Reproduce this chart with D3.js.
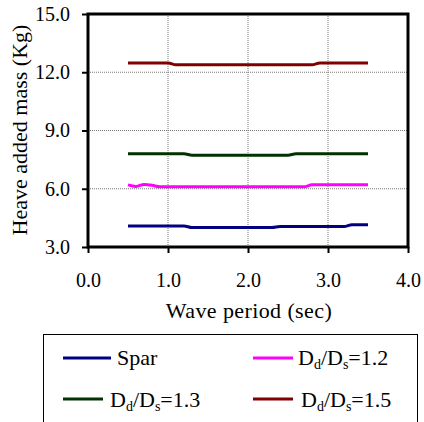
<!DOCTYPE html>
<html><head><meta charset="utf-8">
<script src="https://cdn.jsdelivr.net/npm/d3@7"></script>
<style>body{margin:0;background:#fff}svg{display:block}</style>
</head><body>
<script>
const periods = [0.5,0.6,0.7,0.8,0.9,1.0,1.1,1.2,1.3,1.4,1.5,1.6,1.7,1.8,1.9,2.0,2.1,2.2,2.3,2.4,2.5,2.6,2.7,2.8,2.9,3.0,3.1,3.2,3.3,3.4,3.5];
const spar  = [4.08,4.08,4.08,4.08,4.08,4.08,4.08,4.08,4.0,4.0,4.0,4.0,4.0,4.0,4.0,4.0,4.0,4.0,4.0,4.05,4.05,4.05,4.05,4.05,4.05,4.05,4.05,4.05,4.15,4.15,4.15];
const dd12  = [6.2,6.12,6.22,6.18,6.1,6.1,6.1,6.1,6.1,6.1,6.1,6.1,6.1,6.1,6.1,6.1,6.1,6.1,6.1,6.1,6.1,6.1,6.1,6.2,6.2,6.2,6.2,6.2,6.2,6.2,6.2];
const dd13  = [7.8,7.8,7.8,7.8,7.8,7.8,7.8,7.8,7.73,7.73,7.73,7.73,7.73,7.73,7.73,7.73,7.73,7.73,7.73,7.73,7.73,7.8,7.8,7.8,7.8,7.8,7.8,7.8,7.8,7.8,7.8];
const dd15  = [12.48,12.48,12.48,12.48,12.48,12.48,12.38,12.38,12.38,12.38,12.38,12.38,12.38,12.38,12.38,12.38,12.38,12.38,12.38,12.38,12.38,12.38,12.38,12.38,12.48,12.48,12.48,12.48,12.48,12.48,12.48];
const seriesNames = ["Spar","1.2","1.3","1.5"];
const xTicks = [0,1,2,3,4];
const yTicks = [3,6,9,12,15];

const FONT="'Liberation Serif','Times New Roman',serif";
const W=424,H=422;
const svg=d3.select("body").append("svg").attr("width",W).attr("height",H);
const L=88,R=408,T=14,B=247;
const x=d3.scaleLinear().domain([0,4]).range([L,R]);
const y=d3.scaleLinear().domain([3,15]).range([B,T]);

// grid
const g=svg.append("g");
g.selectAll(".gx").data([1,2,3]).enter().append("line")
 .attr("x1",d=>x(d)).attr("x2",d=>x(d)).attr("y1",T).attr("y2",B)
 .attr("stroke","#777").attr("stroke-width",1).attr("stroke-dasharray","1,1");
g.selectAll(".gy").data([6,9,12]).enter().append("line")
 .attr("y1",d=>y(d)).attr("y2",d=>y(d)).attr("x1",L).attr("x2",R)
 .attr("stroke","#777").attr("stroke-width",1).attr("stroke-dasharray","1,1");

// axes
const xAxis=d3.axisBottom(x).tickValues(xTicks).tickSize(6).tickPadding(20).tickFormat(d3.format(".1f"));
const yAxis=d3.axisLeft(y).tickValues(yTicks).tickSize(6).tickPadding(12).tickFormat(d3.format(".1f"));
const gx=svg.append("g").attr("transform",`translate(0,${B})`).call(xAxis);
const gy=svg.append("g").attr("transform",`translate(${L},0)`).call(yAxis);
[gx,gy].forEach(a=>{
 a.attr("font-family",FONT).attr("font-size",20);
 a.select(".domain").remove();
 a.selectAll("line").attr("stroke","#000").attr("stroke-width",2);
 a.selectAll("text").style("font-family",FONT).style("font-size","20px").attr("fill","#000");
});

// frame
svg.append("rect").attr("x",L).attr("y",T).attr("width",R-L).attr("height",B-T)
 .attr("fill","none").attr("stroke","#000").attr("stroke-width",3);

// lines
const cols=["#000080","#FF00FF","#003300","#800000"];
const data=[spar,dd12,dd13,dd15];
const line=d3.line().x((d,i)=>x(periods[i])).y(d=>y(d)).curve(d3.curveMonotoneX);
data.forEach((s,k)=>{
 svg.append("path").datum(s).attr("d",line).attr("fill","none").attr("stroke",cols[k]).attr("stroke-width",3);
});

// axis titles
svg.append("text").attr("x",249).attr("y",318).attr("text-anchor","middle")
 .style("font-family",FONT).style("font-size","22px").style("letter-spacing","0.4px").text("Wave period (sec)");
svg.append("text").attr("transform","translate(27,130) rotate(-90)").attr("text-anchor","middle")
 .style("font-family",FONT).style("font-size","22px").text("Heave added mass (Kg)");

// legend
svg.append("rect").attr("x",43.5).attr("y",334.5).attr("width",374).attr("height",100)
 .attr("fill","none").attr("stroke","#000").attr("stroke-width",1);
const leg=[{lx:63,lx2:111,tx:117,ly:358,ty:365},{lx:253,lx2:293,tx:298,ly:358,ty:365},
           {lx:63,lx2:103,tx:110,ly:399,ty:407},{lx:253,lx2:293,tx:301,ly:399,ty:407}];
leg.forEach((p,k)=>{
 svg.append("line").attr("x1",p.lx).attr("x2",p.lx2).attr("y1",p.ly).attr("y2",p.ly).attr("stroke",cols[k]).attr("stroke-width",3);
 const t=svg.append("text").attr("x",p.tx).attr("y",p.ty).style("font-family",FONT).style("font-size","22px");
 if(k===0){t.text(seriesNames[0]);}
 else{
  t.append("tspan").text("D");
  t.append("tspan").attr("dy",4).style("font-size","14px").text("d");
  t.append("tspan").attr("dy",-4).text("/D");
  t.append("tspan").attr("dy",4).style("font-size","14px").text("s");
  t.append("tspan").attr("dy",-4).text("="+seriesNames[k]);
 }
});
</script>
</body></html>
